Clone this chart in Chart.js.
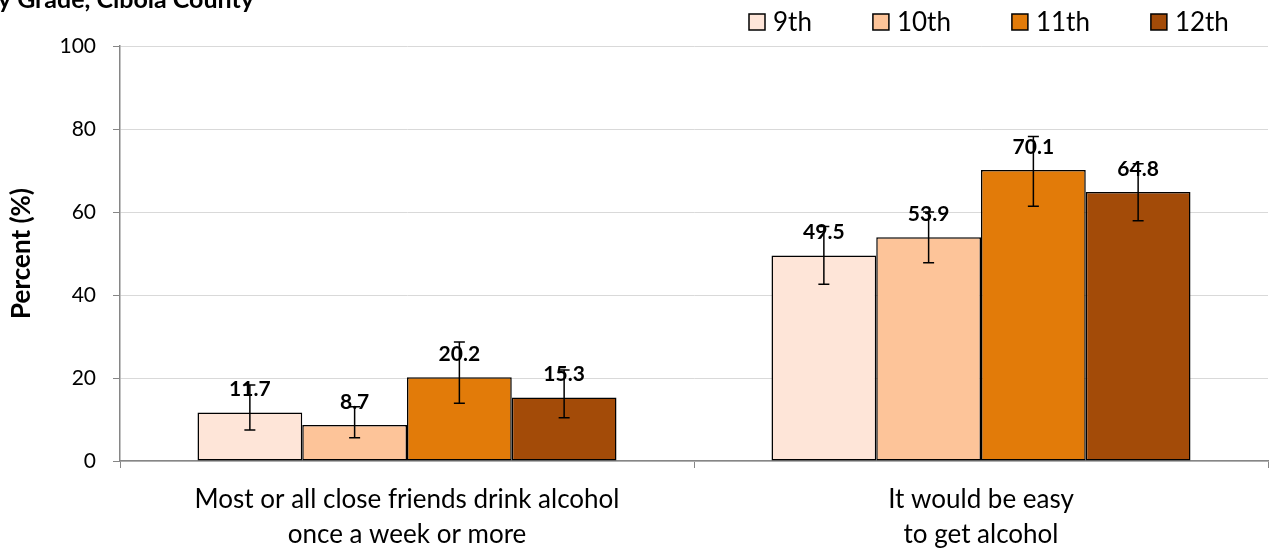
<!DOCTYPE html>
<html><head><meta charset="utf-8">
<script src="https://cdn.jsdelivr.net/npm/chart.js@4/dist/chart.umd.min.js"></script>
<style>html,body{margin:0;padding:0;background:#fff;overflow:hidden}</style>
</head><body>
<canvas id="c" width="1270" height="548"></canvas>
<script>
// ---- data ----
const categories = [["Most or all close friends drink alcohol", "once a week or more"], ["It would be easy", "to get alcohol"]];
const grades = ["9th", "10th", "11th", "12th"];
const grade9  = [11.7, 49.5];
const grade10 = [8.7, 53.9];
const grade11 = [20.2, 70.1];
const grade12 = [15.3, 64.8];
const grade9Low  = [7.5, 42.6];
const grade9High = [18.3, 56.5];
const grade10Low  = [5.6, 47.8];
const grade10High = [13.1, 60.0];
const grade11Low  = [13.9, 61.4];
const grade11High = [28.7, 78.2];
const grade12Low  = [10.4, 57.9];
const grade12High = [21.9, 71.6];
const yTickValues = [0, 20, 40, 60, 80, 100];
const titleText = "by Grade, Cibola County";
const yAxisTitle = "Percent (%)";

// ---- styles ----
const colors = ["#FEE5D8", "#FDC499", "#E27B09", "#A34B08"];
const FONT = "Lato";

const seriesValues = [grade9, grade10, grade11, grade12];
const seriesLow = [grade9Low, grade10Low, grade11Low, grade12Low];
const seriesHigh = [grade9High, grade10High, grade11High, grade12High];

const datasets = grades.map((g, i) => ({
  label: g,
  data: seriesValues[i],
  errLow: seriesLow[i],
  errHigh: seriesHigh[i],
  backgroundColor: colors[i],
  borderColor: "#000",
  borderWidth: 1.5,
  borderSkipped: false,
  barPercentage: 1,
  categoryPercentage: 0.73
}));

const errorBarPlugin = {
  id: "errorBars",
  afterDatasetsDraw(chart) {
    const ctx = chart.ctx;
    const ys = chart.scales.y;
    ctx.save();
    ctx.strokeStyle = "#000";
    ctx.lineWidth = 1.5;
    chart.data.datasets.forEach((ds, i) => {
      const meta = chart.getDatasetMeta(i);
      meta.data.forEach((bar, j) => {
        const x = bar.x;
        const yl = ys.getPixelForValue(ds.errLow[j]);
        const yh = ys.getPixelForValue(ds.errHigh[j]);
        ctx.beginPath();
        ctx.moveTo(x, yl); ctx.lineTo(x, yh);
        ctx.moveTo(x - 5.5, yl); ctx.lineTo(x + 5.5, yl);
        ctx.moveTo(x - 5.5, yh); ctx.lineTo(x + 5.5, yh);
        ctx.stroke();
      });
    });
    // value labels
    ctx.fillStyle = "#000";
    ctx.font = "bold 21px " + FONT;
    ctx.textAlign = "center";
    ctx.textBaseline = "middle";
    chart.data.datasets.forEach((ds, i) => {
      const meta = chart.getDatasetMeta(i);
      meta.data.forEach((bar, j) => {
        ctx.fillText(ds.data[j].toFixed(1), bar.x, bar.y - 23);
      });
    });
    ctx.restore();
  }
};

const legendTitlePlugin = {
  id: "legendTitle",
  afterDraw(chart) {
    const ctx = chart.ctx;
    ctx.save();
    // title (cut off at left, as in the source)
    ctx.fillStyle = "#000";
    ctx.font = "bold 25px " + FONT;
    ctx.textAlign = "right";
    ctx.textBaseline = "alphabetic";
    ctx.fillText(titleText, 254, 8);
    // legend
    ctx.font = "26px " + FONT;
    ctx.textAlign = "left";
    ctx.textBaseline = "middle";
    let x = 749;
    const yc = 22;
    chart.data.datasets.forEach((ds) => {
      ctx.fillStyle = ds.backgroundColor;
      ctx.fillRect(x, yc - 8, 16, 16);
      ctx.strokeStyle = "#000";
      ctx.lineWidth = 1.5;
      ctx.strokeRect(x, yc - 8, 16, 16);
      ctx.fillStyle = "#000";
      ctx.fillText(ds.label, x + 24, yc + 1);
      x += 24 + ctx.measureText(ds.label).width + 61;
    });
    ctx.restore();
  }
};

new Chart(document.getElementById("c"), {
  type: "bar",
  data: { labels: categories, datasets },
  plugins: [errorBarPlugin, legendTitlePlugin],
  options: {
    responsive: false,
    animation: false,
    layout: { padding: { top: 46, right: 2, left: 0, bottom: 0 } },
    plugins: { legend: { display: false }, tooltip: { enabled: false } },
    scales: {
      x: {
        grid: { display: true, drawOnChartArea: false, drawTicks: true, tickLength: 7, tickColor: "#868686", offset: true },
        border: { color: "#868686", width: 1.5 },
        ticks: { font: { family: FONT, size: 26, lineHeight: 35 / 26 }, color: "#000", padding: 14, maxRotation: 0, autoSkip: false },
        afterFit: (s) => { s.height = 87; }
      },
      y: {
        min: 0, max: 100,
        afterBuildTicks: (s) => { s.ticks = yTickValues.map(v => ({ value: v })); },
        afterFit: (s) => { s.width = 120; },
        grid: { color: "#d9d9d9", tickColor: "#868686", tickLength: 7, lineWidth: 1 },
        border: { color: "#868686", width: 1.5 },
        ticks: { font: { family: FONT, size: 21 }, color: "#000", padding: 17 },
        title: { display: true, text: yAxisTitle, font: { family: FONT, size: 26, weight: "bold" }, color: "#000", padding: { top: 6, bottom: 0 } }
      }
    }
  }
});
</script>
</body></html>
